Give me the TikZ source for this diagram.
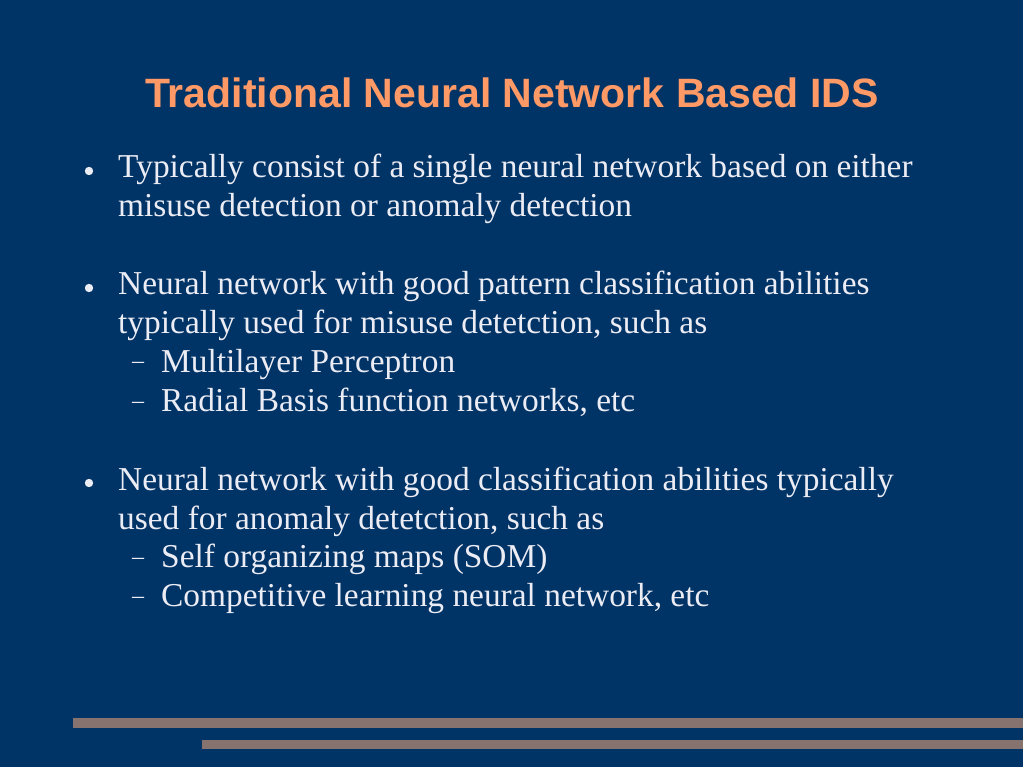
\documentclass[tikz,border=0pt]{standalone}
\usepackage{fontspec}
\setmainfont{Liberation Serif}
\newfontfamily\titlefont{Liberation Sans}
\usetikzlibrary{positioning}
\definecolor{slideblue}{RGB}{0,51,102}
\definecolor{slideorange}{RGB}{255,153,102}
\definecolor{slidetext}{RGB}{236,236,244}
\definecolor{slidebar}{RGB}{134,114,110}

\begin{document}
\begin{tikzpicture}[x=1pt, y=-1pt,
	bodytext/.style={anchor=base west, inner sep=0pt, text=slidetext, font=\fontsize{33.4}{38}\selectfont},
	bulletdot/.style={fill=slidetext, draw=none},
	subdash/.style={anchor=base west, inner sep=0pt, text=slidetext, font=\fontsize{24}{28}\selectfont}]
			%%%%% START %%%%%
			
			\fill[slideblue] (0, 0) rectangle (1023, 767);
			\useasboundingbox (0, 0) rectangle (1023, 767);
			
			\node[anchor=base, inner sep=0pt, text=slideorange, font=\titlefont\bfseries\fontsize{41}{48}\selectfont] (title) at (512, 108) {Traditional Neural Network Based IDS};
			
			% first bullet
			\fill[bulletdot] (89, 171) circle (4.2);
			\node[bodytext] (misuseA) at (118, 178) {Typically consist of a single neural network based on either};
			\node[bodytext] (misuseB) at (118, 217) {misuse detection or anomaly detection};
			
			% second bullet
			\fill[bulletdot] (89, 288) circle (4.2);
			\node[bodytext] (patternA) at (118, 295) {Neural network with good pattern classification abilities};
			\node[bodytext] (patternB) at (118, 334) {typically used for misuse detetction, such as};
			\node[subdash] (dashMLP) at (132, 369) {--};
			\node[bodytext] (mlp) at (161, 372) {Multilayer Perceptron};
			\node[subdash] (dashRBF) at (132, 408) {--};
			\node[bodytext] (rbf) at (161, 411) {Radial Basis function networks, etc};
			
			% third bullet
			\fill[bulletdot] (89, 483) circle (4.2);
			\node[bodytext] (anomalyA) at (118, 490) {Neural network with good classification abilities typically};
			\node[bodytext] (anomalyB) at (118, 529) {used for anomaly detetction, such as};
			\node[subdash] (dashSOM) at (132, 564) {--};
			\node[bodytext] (som) at (161, 567) {Self organizing maps (SOM)};
			\node[subdash] (dashCL) at (132, 603) {--};
			\node[bodytext] (cl) at (161, 606) {Competitive learning neural network, etc};
			
			% footer bars
			\fill[slidebar] (73, 718) rectangle (1023, 728);
			\fill[slidebar] (202, 740) rectangle (1023, 749);
			
			%%%%% END %%%%%
\end{tikzpicture}
\end{document}
